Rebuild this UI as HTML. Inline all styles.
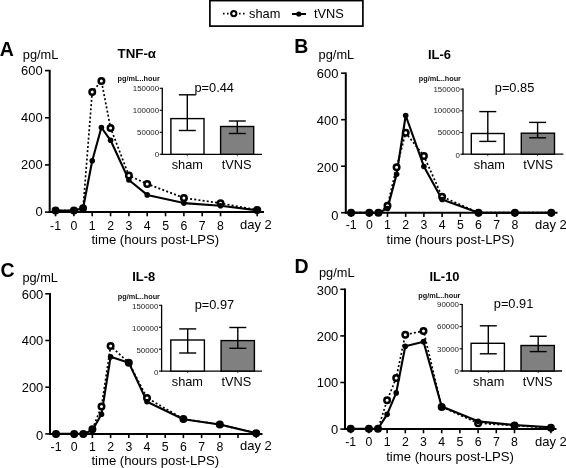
<!DOCTYPE html>
<html><head><meta charset="utf-8"><style>
html,body{margin:0;padding:0;background:#fff;width:566px;height:468px;overflow:hidden}
svg{display:block;font-family:"Liberation Sans", sans-serif;filter:grayscale(1)}
</style></head><body>
<svg width="566" height="468" viewBox="0 0 566 468" fill="#000">
<rect width="566" height="468" fill="#fff"/>
<text x="-0.2" y="55.5" font-size="19.5" text-anchor="start" font-weight="bold"  >A</text>
<text x="22.8" y="59.4" font-size="12.8" text-anchor="start" font-weight="normal"  >pg/mL</text>
<text x="117.6" y="58.4" font-size="13.3" text-anchor="start" font-weight="bold"  >TNF-α</text>
<line x1="49.7" y1="69.85" x2="49.7" y2="212.9" stroke="#000" stroke-width="2" />
<line x1="45" y1="212.1" x2="49.7" y2="212.1" stroke="#000" stroke-width="1.6" />
<text x="42.6" y="216.4" font-size="12.3" text-anchor="end" font-weight="normal" transform="translate(42.6,0) scale(1.05,1) translate(-42.6,0)" >0</text>
<line x1="45" y1="164.93" x2="49.7" y2="164.93" stroke="#000" stroke-width="1.6" />
<text x="42.6" y="169.23" font-size="12.3" text-anchor="end" font-weight="normal" transform="translate(42.6,0) scale(1.05,1) translate(-42.6,0)" >200</text>
<line x1="45" y1="117.77" x2="49.7" y2="117.77" stroke="#000" stroke-width="1.6" />
<text x="42.6" y="122.07" font-size="12.3" text-anchor="end" font-weight="normal" transform="translate(42.6,0) scale(1.05,1) translate(-42.6,0)" >400</text>
<line x1="45" y1="70.6" x2="49.7" y2="70.6" stroke="#000" stroke-width="1.6" />
<text x="42.6" y="74.9" font-size="12.3" text-anchor="end" font-weight="normal" transform="translate(42.6,0) scale(1.05,1) translate(-42.6,0)" >600</text>
<line x1="48.7" y1="212.1" x2="264" y2="212.1" stroke="#000" stroke-width="2" />
<line x1="55.57" y1="212.1" x2="55.57" y2="216.3" stroke="#000" stroke-width="1.6" />
<line x1="73.9" y1="212.1" x2="73.9" y2="216.3" stroke="#000" stroke-width="1.6" />
<line x1="92.23" y1="212.1" x2="92.23" y2="216.3" stroke="#000" stroke-width="1.6" />
<line x1="110.56" y1="212.1" x2="110.56" y2="216.3" stroke="#000" stroke-width="1.6" />
<line x1="128.89" y1="212.1" x2="128.89" y2="216.3" stroke="#000" stroke-width="1.6" />
<line x1="147.22" y1="212.1" x2="147.22" y2="216.3" stroke="#000" stroke-width="1.6" />
<line x1="165.55" y1="212.1" x2="165.55" y2="216.3" stroke="#000" stroke-width="1.6" />
<line x1="183.88" y1="212.1" x2="183.88" y2="216.3" stroke="#000" stroke-width="1.6" />
<line x1="202.21" y1="212.1" x2="202.21" y2="216.3" stroke="#000" stroke-width="1.6" />
<line x1="220.54" y1="212.1" x2="220.54" y2="216.3" stroke="#000" stroke-width="1.6" />
<line x1="257.2" y1="212.1" x2="257.2" y2="216.3" stroke="#000" stroke-width="1.6" />
<text x="55.57" y="229.9" font-size="12.3" text-anchor="middle" font-weight="normal"  >-1</text>
<text x="73.9" y="229.9" font-size="12.3" text-anchor="middle" font-weight="normal"  >0</text>
<text x="92.23" y="229.9" font-size="12.3" text-anchor="middle" font-weight="normal"  >1</text>
<text x="110.56" y="229.9" font-size="12.3" text-anchor="middle" font-weight="normal"  >2</text>
<text x="128.89" y="229.9" font-size="12.3" text-anchor="middle" font-weight="normal"  >3</text>
<text x="147.22" y="229.9" font-size="12.3" text-anchor="middle" font-weight="normal"  >4</text>
<text x="165.55" y="229.9" font-size="12.3" text-anchor="middle" font-weight="normal"  >5</text>
<text x="183.88" y="229.9" font-size="12.3" text-anchor="middle" font-weight="normal"  >6</text>
<text x="202.21" y="229.9" font-size="12.3" text-anchor="middle" font-weight="normal"  >7</text>
<text x="220.54" y="229.9" font-size="12.3" text-anchor="middle" font-weight="normal"  >8</text>
<text x="240" y="229.3" font-size="13.0" text-anchor="start" font-weight="normal"  >day 2</text>
<text x="91.4" y="243.6" font-size="13.15" text-anchor="start" font-weight="normal"  >time (hours post-LPS)</text>
<polyline points="55.57,210.6 73.9,210.6 83.06,208.2 92.23,92 101.4,80.9 110.56,127.9 128.89,175.6 147.22,183.9 183.88,197.9 220.54,203.2 257.2,210" fill="none" stroke="#000" stroke-width="1.7" stroke-dasharray="2.0 2.2"/>
<polyline points="55.57,210.6 73.9,210.6 83.06,208.3 92.23,160.8 101.4,127.5 110.56,140.3 128.89,180 147.22,194.9 183.88,203.1 220.54,205.7 257.2,210.3" fill="none" stroke="#000" stroke-width="2.1" stroke-linejoin="round"/>
<circle cx="55.57" cy="210.6" r="2.75" fill="#fff" stroke="#000" stroke-width="2.5"/>
<circle cx="73.9" cy="210.6" r="2.75" fill="#fff" stroke="#000" stroke-width="2.5"/>
<circle cx="83.06" cy="208.2" r="2.75" fill="#fff" stroke="#000" stroke-width="2.5"/>
<circle cx="92.23" cy="92" r="2.75" fill="#fff" stroke="#000" stroke-width="2.5"/>
<circle cx="101.4" cy="80.9" r="2.75" fill="#fff" stroke="#000" stroke-width="2.5"/>
<circle cx="110.56" cy="127.9" r="2.75" fill="#fff" stroke="#000" stroke-width="2.5"/>
<circle cx="128.89" cy="175.6" r="2.75" fill="#fff" stroke="#000" stroke-width="2.5"/>
<circle cx="147.22" cy="183.9" r="2.75" fill="#fff" stroke="#000" stroke-width="2.5"/>
<circle cx="183.88" cy="197.9" r="2.75" fill="#fff" stroke="#000" stroke-width="2.5"/>
<circle cx="220.54" cy="203.2" r="2.75" fill="#fff" stroke="#000" stroke-width="2.5"/>
<circle cx="257.2" cy="210" r="2.75" fill="#fff" stroke="#000" stroke-width="2.5"/>
<circle cx="55.57" cy="210.6" r="2.8" fill="#000"/>
<circle cx="73.9" cy="210.6" r="2.8" fill="#000"/>
<circle cx="83.06" cy="208.3" r="2.8" fill="#000"/>
<circle cx="92.23" cy="160.8" r="2.8" fill="#000"/>
<circle cx="101.4" cy="127.5" r="2.8" fill="#000"/>
<circle cx="110.56" cy="140.3" r="2.8" fill="#000"/>
<circle cx="128.89" cy="180" r="2.8" fill="#000"/>
<circle cx="147.22" cy="194.9" r="2.8" fill="#000"/>
<circle cx="183.88" cy="203.1" r="2.8" fill="#000"/>
<circle cx="220.54" cy="205.7" r="2.8" fill="#000"/>
<circle cx="257.2" cy="210.3" r="2.8" fill="#000"/>
<line x1="162.3" y1="87.8" x2="162.3" y2="154.9" stroke="#000" stroke-width="1.3" />
<line x1="161.7" y1="154.3" x2="262" y2="154.3" stroke="#000" stroke-width="1.3" />
<line x1="159.7" y1="154.3" x2="162.3" y2="154.3" stroke="#000" stroke-width="1.1" />
<text x="159.1" y="156.6" font-size="6.6" text-anchor="end" fill="#222" transform="translate(159.1,0) scale(1.2,1) translate(-159.1,0)">0</text>
<line x1="159.7" y1="132.3" x2="162.3" y2="132.3" stroke="#000" stroke-width="1.1" />
<text x="159.1" y="134.6" font-size="6.6" text-anchor="end" fill="#222" transform="translate(159.1,0) scale(1.2,1) translate(-159.1,0)">50000</text>
<line x1="159.7" y1="110.3" x2="162.3" y2="110.3" stroke="#000" stroke-width="1.1" />
<text x="159.1" y="112.6" font-size="6.6" text-anchor="end" fill="#222" transform="translate(159.1,0) scale(1.2,1) translate(-159.1,0)">100000</text>
<line x1="159.7" y1="88.3" x2="162.3" y2="88.3" stroke="#000" stroke-width="1.1" />
<text x="159.1" y="90.6" font-size="6.6" text-anchor="end" fill="#222" transform="translate(159.1,0) scale(1.2,1) translate(-159.1,0)">150000</text>
<rect x="170.9" y="118.6" width="33.1" height="35.7" fill="#fff" stroke="#000" stroke-width="1.4"/>
<line x1="187.3" y1="94.8" x2="187.3" y2="130.5" stroke="#000" stroke-width="1.4" />
<line x1="178.8" y1="94.8" x2="195.8" y2="94.8" stroke="#000" stroke-width="1.4" />
<line x1="178.8" y1="130.5" x2="195.8" y2="130.5" stroke="#000" stroke-width="1.4" />
<rect x="220.6" y="126.5" width="33.1" height="27.8" fill="#808080" stroke="#000" stroke-width="1.4"/>
<line x1="237.3" y1="121" x2="237.3" y2="133.5" stroke="#000" stroke-width="1.4" />
<line x1="228.8" y1="121" x2="245.8" y2="121" stroke="#000" stroke-width="1.4" />
<line x1="228.8" y1="133.5" x2="245.8" y2="133.5" stroke="#000" stroke-width="1.4" />
<text x="117.6" y="81" font-size="7.3" font-weight="bold" fill="#111">pg/mL..hour</text>
<text x="194.5" y="91.5" font-size="12.792000000000002" text-anchor="start" font-weight="normal"  >p=0.44</text>
<text x="187.3" y="168.6" font-size="12.792000000000002" text-anchor="middle" font-weight="normal"  >sham</text>
<text x="236.6" y="168.6" font-size="12.792000000000002" text-anchor="middle" font-weight="normal"  >tVNS</text>
<line x1="187.3" y1="154.3" x2="187.3" y2="156.3" stroke="#000" stroke-width="1.0" stroke-opacity="0.7"/>
<line x1="237.3" y1="154.3" x2="237.3" y2="156.3" stroke="#000" stroke-width="1.0" stroke-opacity="0.7"/>
<text x="294.3" y="53" font-size="19.5" text-anchor="start" font-weight="bold"  >B</text>
<text x="318.6" y="58.5" font-size="12.8" text-anchor="start" font-weight="normal"  >pg/mL</text>
<text x="428" y="59" font-size="12.9" text-anchor="start" font-weight="bold"  >IL-6</text>
<line x1="345.8" y1="72.45" x2="345.8" y2="213.5" stroke="#000" stroke-width="2" />
<line x1="341.1" y1="212.7" x2="345.8" y2="212.7" stroke="#000" stroke-width="1.6" />
<text x="338.4" y="220" font-size="12.3" text-anchor="end" font-weight="normal" transform="translate(338.4,0) scale(1.05,1) translate(-338.4,0)" >0</text>
<line x1="341.1" y1="166.2" x2="345.8" y2="166.2" stroke="#000" stroke-width="1.6" />
<text x="338.4" y="172.2" font-size="12.3" text-anchor="end" font-weight="normal" transform="translate(338.4,0) scale(1.05,1) translate(-338.4,0)" >200</text>
<line x1="341.1" y1="119.7" x2="345.8" y2="119.7" stroke="#000" stroke-width="1.6" />
<text x="338.4" y="125.1" font-size="12.3" text-anchor="end" font-weight="normal" transform="translate(338.4,0) scale(1.05,1) translate(-338.4,0)" >400</text>
<line x1="341.1" y1="73.2" x2="345.8" y2="73.2" stroke="#000" stroke-width="1.6" />
<text x="338.4" y="78.4" font-size="12.3" text-anchor="end" font-weight="normal" transform="translate(338.4,0) scale(1.05,1) translate(-338.4,0)" >600</text>
<line x1="344.8" y1="212.7" x2="557.5" y2="212.7" stroke="#000" stroke-width="2" />
<line x1="351.1" y1="212.7" x2="351.1" y2="216.9" stroke="#000" stroke-width="1.6" />
<line x1="369.3" y1="212.7" x2="369.3" y2="216.9" stroke="#000" stroke-width="1.6" />
<line x1="387.5" y1="212.7" x2="387.5" y2="216.9" stroke="#000" stroke-width="1.6" />
<line x1="405.7" y1="212.7" x2="405.7" y2="216.9" stroke="#000" stroke-width="1.6" />
<line x1="423.9" y1="212.7" x2="423.9" y2="216.9" stroke="#000" stroke-width="1.6" />
<line x1="442.1" y1="212.7" x2="442.1" y2="216.9" stroke="#000" stroke-width="1.6" />
<line x1="460.3" y1="212.7" x2="460.3" y2="216.9" stroke="#000" stroke-width="1.6" />
<line x1="478.5" y1="212.7" x2="478.5" y2="216.9" stroke="#000" stroke-width="1.6" />
<line x1="496.7" y1="212.7" x2="496.7" y2="216.9" stroke="#000" stroke-width="1.6" />
<line x1="514.9" y1="212.7" x2="514.9" y2="216.9" stroke="#000" stroke-width="1.6" />
<line x1="551.3" y1="212.7" x2="551.3" y2="216.9" stroke="#000" stroke-width="1.6" />
<text x="351.1" y="228.7" font-size="12.3" text-anchor="middle" font-weight="normal"  >-1</text>
<text x="369.3" y="228.7" font-size="12.3" text-anchor="middle" font-weight="normal"  >0</text>
<text x="387.5" y="228.7" font-size="12.3" text-anchor="middle" font-weight="normal"  >1</text>
<text x="405.7" y="228.7" font-size="12.3" text-anchor="middle" font-weight="normal"  >2</text>
<text x="423.9" y="228.7" font-size="12.3" text-anchor="middle" font-weight="normal"  >3</text>
<text x="442.1" y="228.7" font-size="12.3" text-anchor="middle" font-weight="normal"  >4</text>
<text x="460.3" y="228.7" font-size="12.3" text-anchor="middle" font-weight="normal"  >5</text>
<text x="478.5" y="228.7" font-size="12.3" text-anchor="middle" font-weight="normal"  >6</text>
<text x="496.7" y="228.7" font-size="12.3" text-anchor="middle" font-weight="normal"  >7</text>
<text x="514.9" y="228.7" font-size="12.3" text-anchor="middle" font-weight="normal"  >8</text>
<text x="535" y="228.7" font-size="13.0" text-anchor="start" font-weight="normal"  >day 2</text>
<text x="386.6" y="244" font-size="13.15" text-anchor="start" font-weight="normal"  >time (hours post-LPS)</text>
<polyline points="351.1,212.7 369.3,212.7 378.4,212.7 387.5,205.72 396.6,167.13 405.7,132.72 423.9,155.97 442.1,196.66 478.5,212.7 514.9,212.7 551.3,212.7" fill="none" stroke="#000" stroke-width="1.7" stroke-dasharray="2.0 2.2"/>
<polyline points="351.1,212.7 369.3,212.7 378.4,212.7 387.5,208.51 396.6,174.34 405.7,115.51 423.9,166.43 442.1,199.45 478.5,212.7 514.9,212.7 551.3,212.7" fill="none" stroke="#000" stroke-width="2.1" stroke-linejoin="round"/>
<circle cx="351.1" cy="212.7" r="2.75" fill="#fff" stroke="#000" stroke-width="2.5"/>
<circle cx="369.3" cy="212.7" r="2.75" fill="#fff" stroke="#000" stroke-width="2.5"/>
<circle cx="378.4" cy="212.7" r="2.75" fill="#fff" stroke="#000" stroke-width="2.5"/>
<circle cx="387.5" cy="205.72" r="2.75" fill="#fff" stroke="#000" stroke-width="2.5"/>
<circle cx="396.6" cy="167.13" r="2.75" fill="#fff" stroke="#000" stroke-width="2.5"/>
<circle cx="405.7" cy="132.72" r="2.75" fill="#fff" stroke="#000" stroke-width="2.5"/>
<circle cx="423.9" cy="155.97" r="2.75" fill="#fff" stroke="#000" stroke-width="2.5"/>
<circle cx="442.1" cy="196.66" r="2.75" fill="#fff" stroke="#000" stroke-width="2.5"/>
<circle cx="478.5" cy="212.7" r="2.75" fill="#fff" stroke="#000" stroke-width="2.5"/>
<circle cx="514.9" cy="212.7" r="2.75" fill="#fff" stroke="#000" stroke-width="2.5"/>
<circle cx="551.3" cy="212.7" r="2.75" fill="#fff" stroke="#000" stroke-width="2.5"/>
<circle cx="351.1" cy="212.7" r="2.8" fill="#000"/>
<circle cx="369.3" cy="212.7" r="2.8" fill="#000"/>
<circle cx="378.4" cy="212.7" r="2.8" fill="#000"/>
<circle cx="387.5" cy="208.51" r="2.8" fill="#000"/>
<circle cx="396.6" cy="174.34" r="2.8" fill="#000"/>
<circle cx="405.7" cy="115.51" r="2.8" fill="#000"/>
<circle cx="423.9" cy="166.43" r="2.8" fill="#000"/>
<circle cx="442.1" cy="199.45" r="2.8" fill="#000"/>
<circle cx="478.5" cy="212.7" r="2.8" fill="#000"/>
<circle cx="514.9" cy="212.7" r="2.8" fill="#000"/>
<circle cx="551.3" cy="212.7" r="2.8" fill="#000"/>
<line x1="463" y1="88.6" x2="463" y2="154.8" stroke="#000" stroke-width="1.3" />
<line x1="462.4" y1="154.2" x2="563.3" y2="154.2" stroke="#000" stroke-width="1.3" />
<line x1="460.4" y1="154.2" x2="463" y2="154.2" stroke="#000" stroke-width="1.1" />
<text x="459.8" y="158.1" font-size="6.6" text-anchor="end" fill="#222" transform="translate(459.8,0) scale(1.2,1) translate(-459.8,0)">0</text>
<line x1="460.4" y1="132.5" x2="463" y2="132.5" stroke="#000" stroke-width="1.1" />
<text x="459.8" y="135.5" font-size="6.6" text-anchor="end" fill="#222" transform="translate(459.8,0) scale(1.2,1) translate(-459.8,0)">50000</text>
<line x1="460.4" y1="110.8" x2="463" y2="110.8" stroke="#000" stroke-width="1.1" />
<text x="459.8" y="113.5" font-size="6.6" text-anchor="end" fill="#222" transform="translate(459.8,0) scale(1.2,1) translate(-459.8,0)">100000</text>
<line x1="460.4" y1="89.1" x2="463" y2="89.1" stroke="#000" stroke-width="1.1" />
<text x="459.8" y="91.6" font-size="6.6" text-anchor="end" fill="#222" transform="translate(459.8,0) scale(1.2,1) translate(-459.8,0)">150000</text>
<rect x="471.3" y="133.5" width="32.9" height="20.7" fill="#fff" stroke="#000" stroke-width="1.4"/>
<line x1="487.8" y1="111.6" x2="487.8" y2="141.4" stroke="#000" stroke-width="1.4" />
<line x1="479.3" y1="111.6" x2="496.3" y2="111.6" stroke="#000" stroke-width="1.4" />
<line x1="479.3" y1="141.4" x2="496.3" y2="141.4" stroke="#000" stroke-width="1.4" />
<rect x="521.3" y="133.2" width="33.2" height="21" fill="#808080" stroke="#000" stroke-width="1.4"/>
<line x1="537.6" y1="122.4" x2="537.6" y2="137.8" stroke="#000" stroke-width="1.4" />
<line x1="529.1" y1="122.4" x2="546.1" y2="122.4" stroke="#000" stroke-width="1.4" />
<line x1="529.1" y1="137.8" x2="546.1" y2="137.8" stroke="#000" stroke-width="1.4" />
<text x="418.8" y="81" font-size="7.3" font-weight="bold" fill="#111">pg/mL..hour</text>
<text x="494.8" y="91.5" font-size="12.792000000000002" text-anchor="start" font-weight="normal"  >p=0.85</text>
<text x="489.4" y="168.7" font-size="12.792000000000002" text-anchor="middle" font-weight="normal"  >sham</text>
<text x="538.2" y="168.7" font-size="12.792000000000002" text-anchor="middle" font-weight="normal"  >tVNS</text>
<line x1="487.8" y1="154.2" x2="487.8" y2="156.2" stroke="#000" stroke-width="1.0" stroke-opacity="0.7"/>
<line x1="537.6" y1="154.2" x2="537.6" y2="156.2" stroke="#000" stroke-width="1.0" stroke-opacity="0.7"/>
<text x="0.5" y="277.1" font-size="19.5" text-anchor="start" font-weight="bold"  >C</text>
<text x="22.4" y="281.9" font-size="12.8" text-anchor="start" font-weight="normal"  >pg/mL</text>
<text x="132.2" y="281.2" font-size="12.9" text-anchor="start" font-weight="bold"  >IL-8</text>
<line x1="50" y1="293.05" x2="50" y2="434.7" stroke="#000" stroke-width="2" />
<line x1="45.3" y1="433.9" x2="50" y2="433.9" stroke="#000" stroke-width="1.6" />
<text x="43.3" y="440.4" font-size="12.3" text-anchor="end" font-weight="normal" transform="translate(43.3,0) scale(1.05,1) translate(-43.3,0)" >0</text>
<line x1="45.3" y1="387.2" x2="50" y2="387.2" stroke="#000" stroke-width="1.6" />
<text x="43.3" y="392.4" font-size="12.3" text-anchor="end" font-weight="normal" transform="translate(43.3,0) scale(1.05,1) translate(-43.3,0)" >200</text>
<line x1="45.3" y1="340.5" x2="50" y2="340.5" stroke="#000" stroke-width="1.6" />
<text x="43.3" y="345.5" font-size="12.3" text-anchor="end" font-weight="normal" transform="translate(43.3,0) scale(1.05,1) translate(-43.3,0)" >400</text>
<line x1="45.3" y1="293.8" x2="50" y2="293.8" stroke="#000" stroke-width="1.6" />
<text x="43.3" y="298.8" font-size="12.3" text-anchor="end" font-weight="normal" transform="translate(43.3,0) scale(1.05,1) translate(-43.3,0)" >600</text>
<line x1="49" y1="433.9" x2="262.5" y2="433.9" stroke="#000" stroke-width="2" />
<line x1="56" y1="433.9" x2="56" y2="438.1" stroke="#000" stroke-width="1.6" />
<line x1="74.2" y1="433.9" x2="74.2" y2="438.1" stroke="#000" stroke-width="1.6" />
<line x1="92.4" y1="433.9" x2="92.4" y2="438.1" stroke="#000" stroke-width="1.6" />
<line x1="110.6" y1="433.9" x2="110.6" y2="438.1" stroke="#000" stroke-width="1.6" />
<line x1="128.8" y1="433.9" x2="128.8" y2="438.1" stroke="#000" stroke-width="1.6" />
<line x1="147" y1="433.9" x2="147" y2="438.1" stroke="#000" stroke-width="1.6" />
<line x1="165.2" y1="433.9" x2="165.2" y2="438.1" stroke="#000" stroke-width="1.6" />
<line x1="183.4" y1="433.9" x2="183.4" y2="438.1" stroke="#000" stroke-width="1.6" />
<line x1="201.6" y1="433.9" x2="201.6" y2="438.1" stroke="#000" stroke-width="1.6" />
<line x1="219.8" y1="433.9" x2="219.8" y2="438.1" stroke="#000" stroke-width="1.6" />
<line x1="238" y1="433.9" x2="238" y2="438.1" stroke="#000" stroke-width="1.6" />
<line x1="256.2" y1="433.9" x2="256.2" y2="438.1" stroke="#000" stroke-width="1.6" />
<text x="56" y="450.8" font-size="12.3" text-anchor="middle" font-weight="normal"  >-1</text>
<text x="74.2" y="450.8" font-size="12.3" text-anchor="middle" font-weight="normal"  >0</text>
<text x="92.4" y="450.8" font-size="12.3" text-anchor="middle" font-weight="normal"  >1</text>
<text x="110.6" y="450.8" font-size="12.3" text-anchor="middle" font-weight="normal"  >2</text>
<text x="128.8" y="450.8" font-size="12.3" text-anchor="middle" font-weight="normal"  >3</text>
<text x="147" y="450.8" font-size="12.3" text-anchor="middle" font-weight="normal"  >4</text>
<text x="165.2" y="450.8" font-size="12.3" text-anchor="middle" font-weight="normal"  >5</text>
<text x="183.4" y="450.8" font-size="12.3" text-anchor="middle" font-weight="normal"  >6</text>
<text x="201.6" y="450.8" font-size="12.3" text-anchor="middle" font-weight="normal"  >7</text>
<text x="219.8" y="450.8" font-size="12.3" text-anchor="middle" font-weight="normal"  >8</text>
<text x="240" y="450.2" font-size="13.0" text-anchor="start" font-weight="normal"  >day 2</text>
<text x="91.4" y="465" font-size="13.15" text-anchor="start" font-weight="normal"  >time (hours post-LPS)</text>
<polyline points="56,433.9 74.2,433.9 83.3,433.9 92.4,429.23 101.5,406.58 110.6,346.1 128.8,362.68 147,397.94 183.4,418.96 219.8,424.56 256.2,433.2" fill="none" stroke="#000" stroke-width="1.7" stroke-dasharray="2.0 2.2"/>
<polyline points="56,433.9 74.2,433.9 83.3,433.9 92.4,430.16 101.5,414.29 110.6,356.85 128.8,362.68 147,401.68 183.4,419.19 219.8,424.56 256.2,433.2" fill="none" stroke="#000" stroke-width="2.1" stroke-linejoin="round"/>
<circle cx="56" cy="433.9" r="2.75" fill="#fff" stroke="#000" stroke-width="2.5"/>
<circle cx="74.2" cy="433.9" r="2.75" fill="#fff" stroke="#000" stroke-width="2.5"/>
<circle cx="83.3" cy="433.9" r="2.75" fill="#fff" stroke="#000" stroke-width="2.5"/>
<circle cx="92.4" cy="429.23" r="2.75" fill="#fff" stroke="#000" stroke-width="2.5"/>
<circle cx="101.5" cy="406.58" r="2.75" fill="#fff" stroke="#000" stroke-width="2.5"/>
<circle cx="110.6" cy="346.1" r="2.75" fill="#fff" stroke="#000" stroke-width="2.5"/>
<circle cx="128.8" cy="362.68" r="2.75" fill="#fff" stroke="#000" stroke-width="2.5"/>
<circle cx="147" cy="397.94" r="2.75" fill="#fff" stroke="#000" stroke-width="2.5"/>
<circle cx="183.4" cy="418.96" r="2.75" fill="#fff" stroke="#000" stroke-width="2.5"/>
<circle cx="219.8" cy="424.56" r="2.75" fill="#fff" stroke="#000" stroke-width="2.5"/>
<circle cx="256.2" cy="433.2" r="2.75" fill="#fff" stroke="#000" stroke-width="2.5"/>
<circle cx="56" cy="433.9" r="2.8" fill="#000"/>
<circle cx="74.2" cy="433.9" r="2.8" fill="#000"/>
<circle cx="83.3" cy="433.9" r="2.8" fill="#000"/>
<circle cx="92.4" cy="430.16" r="2.8" fill="#000"/>
<circle cx="101.5" cy="414.29" r="2.8" fill="#000"/>
<circle cx="110.6" cy="356.85" r="2.8" fill="#000"/>
<circle cx="128.8" cy="362.68" r="2.8" fill="#000"/>
<circle cx="147" cy="401.68" r="2.8" fill="#000"/>
<circle cx="183.4" cy="419.19" r="2.8" fill="#000"/>
<circle cx="219.8" cy="424.56" r="2.8" fill="#000"/>
<circle cx="256.2" cy="433.2" r="2.8" fill="#000"/>
<line x1="161.6" y1="304.8" x2="161.6" y2="371.7" stroke="#000" stroke-width="1.3" />
<line x1="161" y1="371.1" x2="262" y2="371.1" stroke="#000" stroke-width="1.3" />
<line x1="159" y1="371.1" x2="161.6" y2="371.1" stroke="#000" stroke-width="1.1" />
<text x="158.4" y="374.6" font-size="6.6" text-anchor="end" fill="#222" transform="translate(158.4,0) scale(1.2,1) translate(-158.4,0)">0</text>
<line x1="159" y1="349.17" x2="161.6" y2="349.17" stroke="#000" stroke-width="1.1" />
<text x="158.4" y="352.67" font-size="6.6" text-anchor="end" fill="#222" transform="translate(158.4,0) scale(1.2,1) translate(-158.4,0)">50000</text>
<line x1="159" y1="327.23" x2="161.6" y2="327.23" stroke="#000" stroke-width="1.1" />
<text x="158.4" y="330.73" font-size="6.6" text-anchor="end" fill="#222" transform="translate(158.4,0) scale(1.2,1) translate(-158.4,0)">100000</text>
<line x1="159" y1="305.3" x2="161.6" y2="305.3" stroke="#000" stroke-width="1.1" />
<text x="158.4" y="308.8" font-size="6.6" text-anchor="end" fill="#222" transform="translate(158.4,0) scale(1.2,1) translate(-158.4,0)">150000</text>
<rect x="170.8" y="340" width="33.6" height="31.1" fill="#fff" stroke="#000" stroke-width="1.4"/>
<line x1="187.7" y1="328.9" x2="187.7" y2="353" stroke="#000" stroke-width="1.4" />
<line x1="179.2" y1="328.9" x2="196.2" y2="328.9" stroke="#000" stroke-width="1.4" />
<line x1="179.2" y1="353" x2="196.2" y2="353" stroke="#000" stroke-width="1.4" />
<rect x="221.1" y="340.6" width="33.3" height="30.5" fill="#808080" stroke="#000" stroke-width="1.4"/>
<line x1="237.8" y1="327.5" x2="237.8" y2="348.3" stroke="#000" stroke-width="1.4" />
<line x1="229.3" y1="327.5" x2="246.3" y2="327.5" stroke="#000" stroke-width="1.4" />
<line x1="229.3" y1="348.3" x2="246.3" y2="348.3" stroke="#000" stroke-width="1.4" />
<text x="117.8" y="298.6" font-size="7.3" font-weight="bold" fill="#111">pg/mL..hour</text>
<text x="194.7" y="308.5" font-size="12.792000000000002" text-anchor="start" font-weight="normal"  >p=0.97</text>
<text x="187.4" y="385.6" font-size="12.792000000000002" text-anchor="middle" font-weight="normal"  >sham</text>
<text x="236.3" y="385.6" font-size="12.792000000000002" text-anchor="middle" font-weight="normal"  >tVNS</text>
<line x1="187.7" y1="371.1" x2="187.7" y2="373.1" stroke="#000" stroke-width="1.0" stroke-opacity="0.7"/>
<line x1="237.8" y1="371.1" x2="237.8" y2="373.1" stroke="#000" stroke-width="1.0" stroke-opacity="0.7"/>
<text x="294.6" y="272.8" font-size="19.5" text-anchor="start" font-weight="bold"  >D</text>
<text x="319" y="276.9" font-size="12.8" text-anchor="start" font-weight="normal"  >pg/mL</text>
<text x="429.4" y="281.1" font-size="12.9" text-anchor="start" font-weight="bold"  >IL-10</text>
<line x1="345" y1="288.55" x2="345" y2="429.9" stroke="#000" stroke-width="2" />
<line x1="340.3" y1="429.1" x2="345" y2="429.1" stroke="#000" stroke-width="1.6" />
<text x="338.3" y="433.7" font-size="12.3" text-anchor="end" font-weight="normal" transform="translate(338.3,0) scale(1.05,1) translate(-338.3,0)" >0</text>
<line x1="340.3" y1="382.5" x2="345" y2="382.5" stroke="#000" stroke-width="1.6" />
<text x="338.3" y="387.5" font-size="12.3" text-anchor="end" font-weight="normal" transform="translate(338.3,0) scale(1.05,1) translate(-338.3,0)" >100</text>
<line x1="340.3" y1="335.9" x2="345" y2="335.9" stroke="#000" stroke-width="1.6" />
<text x="338.3" y="341.2" font-size="12.3" text-anchor="end" font-weight="normal" transform="translate(338.3,0) scale(1.05,1) translate(-338.3,0)" >200</text>
<line x1="340.3" y1="289.3" x2="345" y2="289.3" stroke="#000" stroke-width="1.6" />
<text x="338.3" y="294.9" font-size="12.3" text-anchor="end" font-weight="normal" transform="translate(338.3,0) scale(1.05,1) translate(-338.3,0)" >300</text>
<line x1="344" y1="429.1" x2="556.5" y2="429.1" stroke="#000" stroke-width="2" />
<line x1="350.7" y1="429.1" x2="350.7" y2="433.3" stroke="#000" stroke-width="1.6" />
<line x1="368.9" y1="429.1" x2="368.9" y2="433.3" stroke="#000" stroke-width="1.6" />
<line x1="387.1" y1="429.1" x2="387.1" y2="433.3" stroke="#000" stroke-width="1.6" />
<line x1="405.3" y1="429.1" x2="405.3" y2="433.3" stroke="#000" stroke-width="1.6" />
<line x1="423.5" y1="429.1" x2="423.5" y2="433.3" stroke="#000" stroke-width="1.6" />
<line x1="441.7" y1="429.1" x2="441.7" y2="433.3" stroke="#000" stroke-width="1.6" />
<line x1="459.9" y1="429.1" x2="459.9" y2="433.3" stroke="#000" stroke-width="1.6" />
<line x1="478.1" y1="429.1" x2="478.1" y2="433.3" stroke="#000" stroke-width="1.6" />
<line x1="496.3" y1="429.1" x2="496.3" y2="433.3" stroke="#000" stroke-width="1.6" />
<line x1="514.5" y1="429.1" x2="514.5" y2="433.3" stroke="#000" stroke-width="1.6" />
<line x1="550.9" y1="429.1" x2="550.9" y2="433.3" stroke="#000" stroke-width="1.6" />
<text x="350.7" y="445.9" font-size="12.3" text-anchor="middle" font-weight="normal"  >-1</text>
<text x="368.9" y="445.9" font-size="12.3" text-anchor="middle" font-weight="normal"  >0</text>
<text x="387.1" y="445.9" font-size="12.3" text-anchor="middle" font-weight="normal"  >1</text>
<text x="405.3" y="445.9" font-size="12.3" text-anchor="middle" font-weight="normal"  >2</text>
<text x="423.5" y="445.9" font-size="12.3" text-anchor="middle" font-weight="normal"  >3</text>
<text x="441.7" y="445.9" font-size="12.3" text-anchor="middle" font-weight="normal"  >4</text>
<text x="459.9" y="445.9" font-size="12.3" text-anchor="middle" font-weight="normal"  >5</text>
<text x="478.1" y="445.9" font-size="12.3" text-anchor="middle" font-weight="normal"  >6</text>
<text x="496.3" y="445.9" font-size="12.3" text-anchor="middle" font-weight="normal"  >7</text>
<text x="514.5" y="445.9" font-size="12.3" text-anchor="middle" font-weight="normal"  >8</text>
<text x="535" y="445.9" font-size="13.0" text-anchor="start" font-weight="normal"  >day 2</text>
<text x="386.2" y="460.8" font-size="13.15" text-anchor="start" font-weight="normal"  >time (hours post-LPS)</text>
<polyline points="350.7,428.8 368.9,428.8 378,428.8 387.1,400.37 396.2,378.01 405.3,334.67 423.5,330.94 441.7,406.9 478.1,423.21 514.5,425.54 550.9,427.87" fill="none" stroke="#000" stroke-width="1.7" stroke-dasharray="2.0 2.2"/>
<polyline points="350.7,428.8 368.9,428.8 378,428.8 387.1,414.35 396.2,392.92 405.3,346.32 423.5,341.66 441.7,406.43 478.1,421.34 514.5,425.07 550.9,427.4" fill="none" stroke="#000" stroke-width="2.1" stroke-linejoin="round"/>
<circle cx="350.7" cy="428.8" r="2.75" fill="#fff" stroke="#000" stroke-width="2.5"/>
<circle cx="368.9" cy="428.8" r="2.75" fill="#fff" stroke="#000" stroke-width="2.5"/>
<circle cx="378" cy="428.8" r="2.75" fill="#fff" stroke="#000" stroke-width="2.5"/>
<circle cx="387.1" cy="400.37" r="2.75" fill="#fff" stroke="#000" stroke-width="2.5"/>
<circle cx="396.2" cy="378.01" r="2.75" fill="#fff" stroke="#000" stroke-width="2.5"/>
<circle cx="405.3" cy="334.67" r="2.75" fill="#fff" stroke="#000" stroke-width="2.5"/>
<circle cx="423.5" cy="330.94" r="2.75" fill="#fff" stroke="#000" stroke-width="2.5"/>
<circle cx="441.7" cy="406.9" r="2.75" fill="#fff" stroke="#000" stroke-width="2.5"/>
<circle cx="478.1" cy="423.21" r="2.75" fill="#fff" stroke="#000" stroke-width="2.5"/>
<circle cx="514.5" cy="425.54" r="2.75" fill="#fff" stroke="#000" stroke-width="2.5"/>
<circle cx="550.9" cy="427.87" r="2.75" fill="#fff" stroke="#000" stroke-width="2.5"/>
<circle cx="350.7" cy="428.8" r="2.8" fill="#000"/>
<circle cx="368.9" cy="428.8" r="2.8" fill="#000"/>
<circle cx="378" cy="428.8" r="2.8" fill="#000"/>
<circle cx="387.1" cy="414.35" r="2.8" fill="#000"/>
<circle cx="396.2" cy="392.92" r="2.8" fill="#000"/>
<circle cx="405.3" cy="346.32" r="2.8" fill="#000"/>
<circle cx="423.5" cy="341.66" r="2.8" fill="#000"/>
<circle cx="441.7" cy="406.43" r="2.8" fill="#000"/>
<circle cx="478.1" cy="421.34" r="2.8" fill="#000"/>
<circle cx="514.5" cy="425.07" r="2.8" fill="#000"/>
<circle cx="550.9" cy="427.4" r="2.8" fill="#000"/>
<line x1="462.2" y1="303.9" x2="462.2" y2="371.6" stroke="#000" stroke-width="1.3" />
<line x1="461.6" y1="371" x2="562.1" y2="371" stroke="#000" stroke-width="1.3" />
<line x1="459.6" y1="371" x2="462.2" y2="371" stroke="#000" stroke-width="1.1" />
<text x="459" y="373.9" font-size="6.6" text-anchor="end" fill="#222" transform="translate(459,0) scale(1.2,1) translate(-459,0)">0</text>
<line x1="459.6" y1="348.8" x2="462.2" y2="348.8" stroke="#000" stroke-width="1.1" />
<text x="459" y="351.7" font-size="6.6" text-anchor="end" fill="#222" transform="translate(459,0) scale(1.2,1) translate(-459,0)">30000</text>
<line x1="459.6" y1="326.6" x2="462.2" y2="326.6" stroke="#000" stroke-width="1.1" />
<text x="459" y="329.5" font-size="6.6" text-anchor="end" fill="#222" transform="translate(459,0) scale(1.2,1) translate(-459,0)">60000</text>
<line x1="459.6" y1="304.4" x2="462.2" y2="304.4" stroke="#000" stroke-width="1.1" />
<text x="459" y="307.3" font-size="6.6" text-anchor="end" fill="#222" transform="translate(459,0) scale(1.2,1) translate(-459,0)">90000</text>
<rect x="471.1" y="343.3" width="33.3" height="27.7" fill="#fff" stroke="#000" stroke-width="1.4"/>
<line x1="488.3" y1="325.8" x2="488.3" y2="353.8" stroke="#000" stroke-width="1.4" />
<line x1="479.8" y1="325.8" x2="496.8" y2="325.8" stroke="#000" stroke-width="1.4" />
<line x1="479.8" y1="353.8" x2="496.8" y2="353.8" stroke="#000" stroke-width="1.4" />
<rect x="521" y="345.5" width="33.3" height="25.5" fill="#808080" stroke="#000" stroke-width="1.4"/>
<line x1="538.2" y1="336.3" x2="538.2" y2="351.6" stroke="#000" stroke-width="1.4" />
<line x1="529.7" y1="336.3" x2="546.7" y2="336.3" stroke="#000" stroke-width="1.4" />
<line x1="529.7" y1="351.6" x2="546.7" y2="351.6" stroke="#000" stroke-width="1.4" />
<text x="418.3" y="297.5" font-size="7.3" font-weight="bold" fill="#111">pg/mL..hour</text>
<text x="493.8" y="308.2" font-size="12.792000000000002" text-anchor="start" font-weight="normal"  >p=0.91</text>
<text x="488.7" y="385.7" font-size="12.792000000000002" text-anchor="middle" font-weight="normal"  >sham</text>
<text x="537.6" y="385.7" font-size="12.792000000000002" text-anchor="middle" font-weight="normal"  >tVNS</text>
<line x1="488.3" y1="371" x2="488.3" y2="373" stroke="#000" stroke-width="1.0" stroke-opacity="0.7"/>
<line x1="538.2" y1="371" x2="538.2" y2="373" stroke="#000" stroke-width="1.0" stroke-opacity="0.7"/>
<rect x="209.9" y="0.6" width="153.0" height="25.5" fill="#fff" stroke="#000" stroke-width="1.7"/>
<line x1="223" y1="13.6" x2="245" y2="13.6" stroke="#000" stroke-width="1.6" stroke-dasharray="1.6 2.4"/>
<circle cx="233.8" cy="13.6" r="2.6" fill="#fff" stroke="#000" stroke-width="2.1"/>
<text x="249" y="17.6" font-size="12.8" text-anchor="start" font-weight="normal"  >sham</text>
<line x1="292" y1="14" x2="306" y2="14" stroke="#000" stroke-width="2"/>
<circle cx="298.8" cy="14" r="2.6" fill="#000"/>
<text x="313.9" y="17.6" font-size="12.8" text-anchor="start" font-weight="normal"  >tVNS</text>
</svg>
</body></html>
